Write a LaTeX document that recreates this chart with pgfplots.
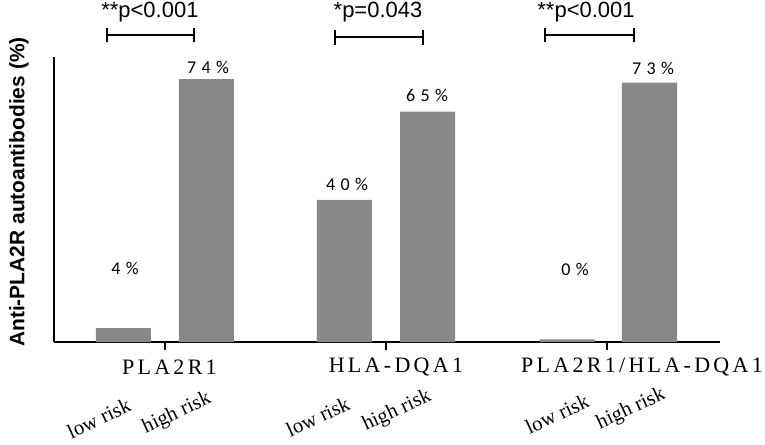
\documentclass[border=0pt]{standalone}
\usepackage{pgfplots}
\pgfplotsset{compat=1.18}
\usepackage{fontspec}
\setmainfont{Liberation Serif}
\newfontfamily\arial{Liberation Sans}
\newfontfamily\calibri{Carlito}
\definecolor{bargray}{RGB}{136,136,136}
\def\g{\hspace{0.15em}}
\def\d{\hspace{0.3em}}
\begin{document}
\begin{tikzpicture}
\path[use as bounding box] (0,0) rectangle (573.75pt,333pt);
\begin{axis}[
  at={(40.5pt,76.5pt)}, anchor=south west,
  scale only axis, width=499.5pt, height=213.75pt,
  xmin=-0.502, xmax=2.511, ymin=0, ymax=80.2,
  axis x line=bottom, axis y line=left,
  axis line style={-, line width=1.5pt},
  ytick=\empty,
  xtick={0,1,2}, xticklabels={},
  tick align=outside, major tick length=6pt,
  xtick style={line width=1.5pt, black},
  clip=false,
]
\addplot[ybar, fill=bargray, draw=none, bar width=0.249] coordinates {
  (-0.1878,3.9) (0.1878,74) (0.812,40) (1.188,64.8) (1.819,0.75) (2.192,73)};
% data labels
\begin{scope}[font=\calibri\fontsize{13.5}{15}\selectfont]
\node at (axis cs:-0.181,20.8) {4\d\%};
\node at (axis cs:0.195,77.4) {7\d4\d\%};
\node at (axis cs:0.824,44.2) {4\d0\d\%};
\node at (axis cs:1.186,69.5) {6\d5\d\%};
\node at (axis cs:1.855,20.5) {0\d\%};
\node at (axis cs:2.208,77.1) {7\d3\d\%};
\end{scope}
% significance
\begin{scope}[line width=1.5pt]
\draw (axis cs:-0.262,86.4) -- (axis cs:0.131,86.4);
\draw (axis cs:-0.262,84.3) -- (axis cs:-0.262,88.5);
\draw (axis cs:0.131,84.3) -- (axis cs:0.131,88.5);
\draw (axis cs:0.769,85.8) -- (axis cs:1.167,85.8);
\draw (axis cs:0.769,83.7) -- (axis cs:0.769,87.9);
\draw (axis cs:1.167,83.7) -- (axis cs:1.167,87.9);
\draw (axis cs:1.719,86.4) -- (axis cs:2.122,86.4);
\draw (axis cs:1.719,84.3) -- (axis cs:1.719,88.5);
\draw (axis cs:2.122,84.3) -- (axis cs:2.122,88.5);
\end{scope}
\begin{scope}[font=\arial\fontsize{16.5}{18}\selectfont]
\node at (axis cs:-0.068,92.9) {**p<0.001};
\node at (axis cs:0.964,92.9) {*p=0.043};
\node at (axis cs:1.905,92.9) {**p<0.001};
\end{scope}
% category labels
\begin{scope}[font=\fontsize{16.5}{18}\selectfont]
\node at (axis cs:0.020,-7.04) {P\g L\g A\g 2\g R\g 1};
\node at (axis cs:1.045,-7.04) {H\g L\g A\g -\g D\g Q\g A\g 1};
\node at (axis cs:2.158,-7.04) {P\g L\g A\g 2\g R\g 1\g /\g H\g L\g A\g -\g D\g Q\g A\g 1};
\end{scope}
\begin{scope}[font=\fontsize{15.5}{17}\selectfont, inner sep=0pt]
\node[rotate=25] at (axis cs:-0.299,-21.5) {low risk};
\node[rotate=25] at (axis cs:0.054,-20.1) {high risk};
\node[rotate=25] at (axis cs:0.692,-21.0) {low risk};
\node[rotate=25] at (axis cs:1.050,-19.4) {high risk};
\node[rotate=25] at (axis cs:1.774,-20.3) {low risk};
\node[rotate=25] at (axis cs:2.109,-18.9) {high risk};
\end{scope}
\node[rotate=90, font=\arial\bfseries\fontsize{15.7}{17}\selectfont] at (axis cs:-0.661,42.2) {Anti-PLA2R autoantibodies (\%)};
\end{axis}
\end{tikzpicture}
\end{document}
